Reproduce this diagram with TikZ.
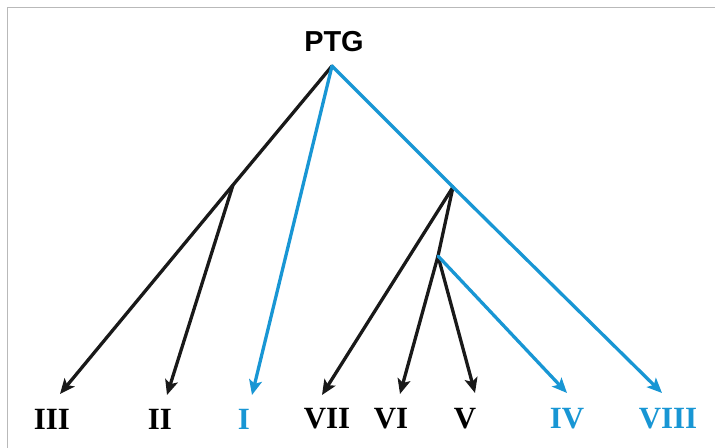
\documentclass[tikz,border=0pt]{standalone}
\usepackage{fontspec}
\setmainfont{Liberation Serif}
\newfontfamily\headfont{Liberation Sans}
\usetikzlibrary{arrows.meta}
\definecolor{treeblue}{RGB}{24,150,212}
\definecolor{framegray}{RGB}{185,185,185}
\tikzset{
  branch/.style={line width=3.3bp, line cap=round, line join=round},
  blackarrow/.style={branch, black!90, -{Stealth[length=15bp,width=13bp,inset=3.5bp]}},
  bluearrow/.style={branch, treeblue, -{Stealth[length=15bp,width=13bp,inset=3.5bp]}},
  leaf/.style={font=\fontsize{31}{31}\selectfont\bfseries, inner sep=0pt, anchor=center},
}
\begin{document}
\begin{tikzpicture}[x=1bp,y=-1bp]
  \useasboundingbox (0,0) rectangle (715,448);
  % frame on the top and left edges
  \draw[framegray, line width=1.6bp] (7.5,448) -- (7.5,7.5) -- (715,7.5);

  % root label
  \node[font=\headfont\fontsize{29}{29}\selectfont\bfseries, inner sep=0pt] (ptg) at (334,42) {PTG};

  % branching points
  \coordinate (root) at (332,66);
  \coordinate (left) at (233,185);
  \coordinate (right) at (453,187);
  \coordinate (inner) at (438,256);

  % arrow tips
  \coordinate (tIII) at (60,394);
  \coordinate (tII) at (167,395);
  \coordinate (tI) at (252,395);
  \coordinate (tVII) at (322,395);
  \coordinate (tVI) at (400,394);
  \coordinate (tV) at (475,393);
  \coordinate (tIV) at (567,393);
  \coordinate (tVIII) at (662,393);

  % leaf labels
  \node[leaf] (III) at (52,419) {III};
  \node[leaf] (II) at (160,419) {II};
  \node[leaf, text=treeblue] (I) at (244,419) {I};
  \node[leaf] (VII) at (327,419) {VII};
  \node[leaf] (VI) at (391,419) {VI};
  \node[leaf] (V) at (465,419) {V};
  \node[leaf, text=treeblue] (IV) at (567,419) {IV};
  \node[leaf, text=treeblue] (VIII) at (668,419) {VIII};

  % black branches
  \draw[blackarrow] (root) -- (left) -- (tIII);
  \draw[blackarrow] (left) -- (tII);
  \draw[blackarrow] (right) -- (tVII);
  \draw[branch, black!90] (right) -- (inner);
  \draw[blackarrow] (inner) -- (tVI);
  \draw[blackarrow] (inner) -- (tV);

  % blue branches
  \draw[bluearrow] (root) -- (tI);
  \draw[bluearrow] (root) -- (right) -- (tVIII);
  \draw[bluearrow] (inner) -- (tIV);
\end{tikzpicture}
\end{document}
